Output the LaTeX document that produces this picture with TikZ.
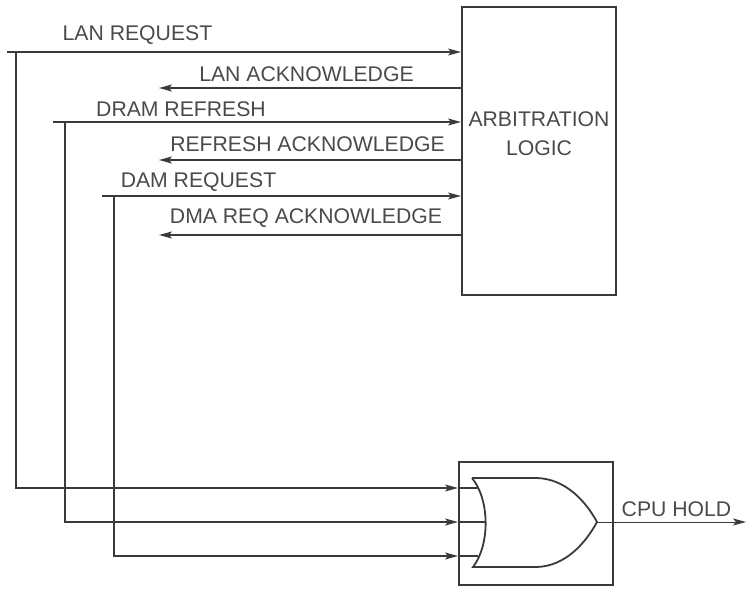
\documentclass[tikz,border=0pt]{standalone}
\usepackage{fontspec}
\setmainfont{Liberation Sans}
\usetikzlibrary{arrows.meta}
\definecolor{ink}{HTML}{3A3A3A}
\definecolor{txt}{HTML}{4A4A4A}
\begin{document}
\begin{tikzpicture}[x=1pt,y=-1pt,
  wire/.style={draw=ink,line width=1.2pt},
  arr/.style={wire,-{Stealth[length=13pt,width=7pt,inset=3pt]}},
  blockbox/.style={draw=ink,line width=2pt,fill=none,inner sep=0pt},
  lbl/.style={text=txt,font=\fontsize{21.2}{29}\selectfont,inner sep=0pt,anchor=base},
  gate/.style={draw=ink,line width=1.8pt}]
\useasboundingbox (0,0) rectangle (748,589);

% blocks
\node[blockbox,minimum width=154pt,minimum height=288pt] (arb) at (539,151) {};
\node[lbl] (arbt1) at (539,126.7) {ARBITRATION};
\node[lbl] (arbt2) at (539,155) {LOGIC};
\node[blockbox,minimum width=154pt,minimum height=123pt] (orbox) at (536,523.5) {};

% OR gate
\coordinate (gtl) at (472,478);
\coordinate (gbl) at (473,567);
\coordinate (gout) at (597,522);
\draw[gate] (gtl) -- (537,478) .. controls (565,479) and (585,500) .. (gout)
  .. controls (585,544) and (565,566) .. (537,567) -- (gbl)
  .. controls (490,545) and (490,500) .. (gtl);
\coordinate (g1) at (478,488);
\coordinate (g2) at (485.6,522);
\coordinate (g3) at (478,556);

% request inputs (left ends) and junctions
\coordinate (lr) at (7,52);
\coordinate (dr) at (53,122);
\coordinate (dq) at (102,196);
\coordinate (j1) at (16,52);
\coordinate (j2) at (65,122);
\coordinate (j3) at (114,196);

\draw[arr] (lr) -- (lr -| arb.west);
\draw[arr] (dr) -- (dr -| arb.west);
\draw[arr] (dq) -- (dq -| arb.west);

% acknowledges
\coordinate (a1) at (159,88);
\coordinate (a2) at (159,160);
\coordinate (a3) at (159,235);
\draw[arr] (a1 -| arb.west) -- (a1);
\draw[arr] (a2 -| arb.west) -- (a2);
\draw[arr] (a3 -| arb.west) -- (a3);

% to OR gate
\draw[arr] (j1) |- (orbox.west |- g1);
\draw[arr] (j2) |- (orbox.west |- g2);
\draw[arr] (j3) |- (orbox.west |- g3);
\draw[wire] (orbox.west |- g1) -- (g1);
\draw[wire] (orbox.west |- g2) -- (g2);
\draw[wire] (orbox.west |- g3) -- (g3);

% output
\coordinate (hold) at (746,522);
\draw[arr,line width=1pt] (gout) -- (hold);

% labels
\node[lbl] (t1) at (137.5,40.7) {LAN REQUEST};
\node[lbl] (t2) at (306.5,81) {LAN ACKNOWLEDGE};
\node[lbl] (t3) at (181,116) {DRAM REFRESH};
\node[lbl] (t4) at (307.5,151.7) {REFRESH ACKNOWLEDGE};
\node[lbl] (t5) at (198.5,187) {DAM REQUEST};
\node[lbl] (t6) at (306,223.5) {DMA REQ ACKNOWLEDGE};
\node[lbl] (t7) at (676.5,516) {CPU HOLD};
\end{tikzpicture}
\end{document}
